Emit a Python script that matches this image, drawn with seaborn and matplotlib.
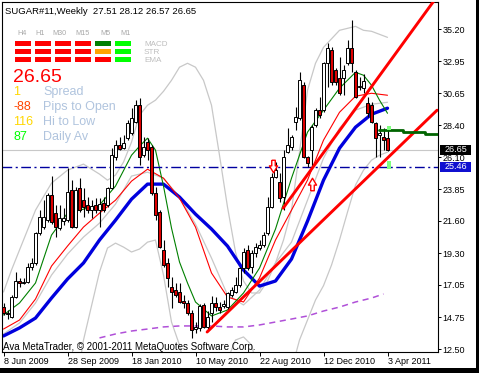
import numpy as np
import matplotlib
matplotlib.use("Agg")
import matplotlib.pyplot as plt
import seaborn as sns
from matplotlib.patches import Rectangle
from matplotlib.path import Path

# --- Settings ---
sns.set_style("white")
plt.rcParams["font.family"] = ["Liberation Sans", "DejaVu Sans"]

W, H = 479, 373

# --- Weekly candles, 8 Jun 2009 -> 3 Apr 2011 ---
opens = [15.48, 15.06, 14.78, 16.19, 17.33, 17.20, 17.26, 18.32, 18.61, 20.73,
         21.20, 21.65, 23.43, 22.15, 21.10, 21.60, 21.65, 23.78, 21.16, 23.92,
         23.07, 22.72, 22.40, 22.72, 22.40, 22.86, 22.72, 23.92, 26.12, 27.00,
         26.80, 27.47, 27.82, 28.60, 29.81, 26.26, 27.19, 26.83, 23.57, 22.22,
         19.53, 18.61, 16.90, 16.69, 16.55, 15.90, 15.77, 15.06, 13.95, 14.00,
         15.63, 14.07, 15.06, 15.77, 15.48, 15.55, 15.48, 16.34, 16.55, 17.04,
         18.25, 19.53, 18.32, 19.32, 19.67, 19.88, 20.73, 22.58, 24.70, 24.35,
         23.29, 26.48, 26.83, 28.60, 28.89, 31.23, 26.10, 26.62, 28.39, 29.46,
         29.46, 32.79, 33.71, 32.29, 31.73, 31.73, 32.79, 33.86, 32.15, 31.10,
         31.00, 29.95, 29.81, 28.53, 27.68, 27.54, 27.51]
highs = [15.77, 15.27, 16.34, 17.98, 17.54, 17.54, 18.61, 18.96, 20.80, 22.36,
         23.07, 23.57, 24.80, 22.72, 22.72, 22.50, 25.34, 24.49, 24.00, 24.63,
         23.92, 23.29, 23.07, 23.20, 23.20, 23.29, 24.00, 26.76, 27.33, 27.54,
         27.68, 28.75, 29.60, 30.17, 30.30, 27.54, 27.47, 26.97, 24.00, 22.36,
         20.24, 18.96, 17.60, 17.19, 17.19, 16.34, 15.98, 15.27, 14.42, 15.70,
         15.77, 15.18, 16.26, 16.19, 15.84, 15.98, 16.55, 16.90, 17.60, 18.32,
         19.67, 19.88, 19.53, 20.00, 20.24, 20.80, 23.29, 24.99, 25.77, 24.99,
         26.62, 28.18, 27.68, 29.67, 32.15, 31.44, 26.20, 28.39, 29.60, 30.38,
         32.86, 34.20, 33.92, 32.43, 33.21, 32.65, 34.42, 35.84, 32.29, 31.80,
         32.00, 30.38, 30.03, 28.60, 28.39, 28.18, 28.12]
lows = [14.92, 14.63, 14.70, 16.12, 16.90, 17.10, 17.19, 18.11, 18.46, 20.59,
        21.00, 21.51, 21.40, 20.45, 20.95, 21.30, 21.51, 21.10, 21.10, 22.22,
        21.87, 22.15, 21.80, 22.15, 21.16, 22.20, 22.58, 23.85, 25.91, 26.62,
        26.70, 27.33, 27.68, 28.53, 25.56, 26.12, 25.91, 23.43, 21.65, 19.67,
        18.32, 16.90, 15.41, 16.19, 15.77, 15.41, 14.92, 13.28, 13.64, 13.80,
        14.00, 13.85, 14.42, 15.18, 15.06, 15.41, 15.27, 16.19, 16.48, 16.90,
        17.90, 18.11, 17.90, 19.03, 19.53, 19.74, 20.59, 22.50, 24.63, 22.93,
        22.36, 26.40, 26.62, 28.04, 28.75, 26.05, 25.46, 25.41, 28.25, 28.89,
        29.31, 31.10, 31.23, 31.23, 30.52, 30.52, 32.65, 32.15, 30.31, 30.87,
        30.70, 28.96, 28.53, 26.12, 26.12, 26.62, 26.57]
closes = [15.06, 14.98, 16.19, 17.33, 17.19, 17.28, 18.32, 18.61, 20.73, 21.87,
          21.90, 23.43, 21.51, 21.16, 21.80, 21.80, 23.64, 21.16, 23.78, 22.36,
          22.58, 22.36, 22.65, 22.36, 22.80, 22.36, 23.92, 26.26, 26.97, 26.70,
          27.15, 28.53, 28.89, 29.81, 26.12, 26.83, 26.62, 23.57, 22.01, 19.74,
          18.46, 17.54, 16.55, 16.34, 15.84, 15.77, 15.06, 13.85, 14.07, 15.55,
          14.07, 14.78, 15.77, 15.48, 15.30, 15.70, 16.48, 16.69, 17.04, 18.25,
          19.39, 18.25, 19.32, 19.74, 19.88, 20.59, 22.58, 24.70, 25.20, 23.21,
          26.12, 26.97, 27.54, 28.96, 31.58, 26.12, 25.70, 28.25, 29.46, 29.10,
          32.79, 33.86, 31.44, 31.44, 30.66, 32.29, 33.86, 32.79, 30.38, 31.20,
          31.50, 29.24, 28.60, 27.47, 27.82, 27.33, 26.65]

date_ticks = [0, 16, 32, 48, 64, 80, 96]
date_labels = ["8 Jun 2009", "28 Sep 2009", "18 Jan 2010", "10 May 2010",
               "22 Aug 2010", "12 Dec 2010", "3 Apr 2011"]
price_ticks = [12.50, 14.75, 17.05, 19.30, 21.60, 23.85, 26.10, 28.40, 30.65, 32.95, 35.20]

# --- Indicator lines (bar index, price) ---
green_idx = [0, 4, 8, 12, 16, 20, 24, 28, 32, 34, 36, 38, 40, 42, 44, 46, 48, 52, 56, 60,
             64, 68, 72, 76, 80, 84, 88, 90, 92, 94, 96]
green_val = [14.92, 15.77, 17.19, 20.59, 22.15, 22.43, 22.72, 24.07, 26.26, 26.90, 27.47,
             26.62, 24.07, 21.09, 18.68, 17.19, 15.84, 14.85, 15.27, 16.48, 18.25, 21.02,
             24.63, 27.90, 29.46, 31.02, 32.15, 31.94, 31.23, 30.17, 29.24]

ma_idx = list(range(0, 97, 4))
red_val = [13.92, 14.56, 16.05, 18.39, 19.81, 21.16, 22.15, 23.07, 24.42, 25.27, 24.63, 23.21,
           21.16, 17.90, 16.19, 15.84, 17.54, 20.24, 22.36, 24.49, 27.33, 29.31, 30.45, 30.66, 30.52]
blue_val = [13.43, 14.00, 14.70, 16.12, 17.47, 18.61, 20.24, 21.65, 23.14, 24.21, 24.21, 23.29,
            22.08, 21.02, 19.81, 18.11, 16.97, 17.33, 18.89, 21.58, 24.49, 26.76, 28.25, 29.17, 29.60]
mid_val = [13.57, 14.35, 15.77, 17.75, 19.24, 20.45, 21.44, 22.79, 24.78, 25.06, 24.63, 23.29,
           21.37, 18.96, 16.34, 15.63, 16.69, 18.61, 20.09, 23.07, 26.05, 28.18, 29.46, 29.88, 30.02]

upper_idx = [0, 2, 4, 8, 12, 16, 20, 24, 26, 28, 30, 32, 34, 36, 38, 40, 42, 44, 46, 48,
             50, 52, 54, 56, 58, 60, 62, 64, 66, 68, 70, 72, 74, 76, 78, 80, 84, 88, 90, 92, 96]
upper_val = [16.55, 18.11, 19.53, 22.36, 24.28, 25.20, 25.63, 24.92, 24.49, 24.85,
             25.77, 27.19, 29.10, 29.81, 30.17, 30.80, 31.58, 32.51, 32.79, 32.51,
             31.58, 29.81, 26.26, 22.58, 19.39, 17.33, 16.48, 16.48, 17.33, 18.61,
             20.24, 22.36, 26.48, 30.87, 32.79, 33.92, 35.13, 35.41, 35.13, 35.06, 34.63]
lower_idx = [18, 20, 22, 24, 26, 28, 30, 32, 34, 36, 38, 40, 42, 44, 46, 48, 52, 56, 58, 60,
             62, 64, 68, 72, 74, 76, 78, 80, 82, 84, 86, 88, 90, 92, 94, 96]
lower_val = [9.60, 13.14, 15.56, 17.97, 19.67, 20.02, 19.74, 19.39, 19.60, 20.09,
             20.24, 17.75, 14.42, 12.79, 10.31, 8.89, 8.89, 11.73, 13.14, 13.36,
             12.79, 10.66, 9.60, 11.02, 13.14, 14.56, 15.98, 17.00, 18.46, 20.24,
             22.22, 24.14, 25.20, 25.91, 26.26, 26.48]
purple_idx = [24, 28, 32, 36, 40, 44, 48, 52, 56, 60, 64, 68, 72, 76, 80, 84, 88, 92, 95]
purple_val = [13.29, 13.57, 13.78, 13.92, 14.07, 14.14, 14.14, 14.14, 14.07, 14.07,
              14.21, 14.42, 14.63, 14.85, 15.20, 15.48, 15.84, 16.12, 16.41]

# trend lines, levels, markers
trend_a_idx, trend_a_val = [69.9, 108.4], [22.50, 37.53]
trend_b_idx, trend_b_val = [50.9, 108.4], [13.71, 29.46]
step_idx = [93.9, 99.9, 105.4, 108.5]
step_val = [28.04, 27.92, 27.80, 27.80]
last_price, support = 26.65, 25.46
proj_boxes = [(28.04, 28.34), (25.26, 25.86)]
arrow_down = (67.4, 25.48)
arrow_up = (77.1, 24.21)

# --- info panel contents ---
timeframes = ["H4", "H1", "M30", "M15", "M5", "M1"]
tf_centers = [22.5, 40, 59.5, 83, 105.5, 125]
signal_rows = ["MACD", "STR", "EMA"]
signal_colors = [["red", "red", "red", "red", "#008000", "#00FF00"],
                 ["red", "red", "red", "red", "#FFA500", "#00FF00"],
                 ["red", "red", "red", "red", "red", "#00FF00"]]
stat_values = ["1", "-88", "116", "87"]
stat_labels = ["Spread", "Pips to Open", "Hi to Low", "Daily Av"]
stat_colors = ["#FFD700", "#FF4500", "#FFD700", "#00FF00"]


def fpos(px, py):
    return px / W, 1 - py / H


fig = plt.figure(figsize=(W / 100, H / 100), dpi=100)
fig.patch.set_facecolor("white")
ax = fig.add_axes([1.5 / W, 21 / H, 436 / W, 350 / H])
ax.set_facecolor("white")
ax.set_xlim(-0.5, 108.5)
ax.set_ylim(12.29, 37.14)

# --- levels ---
ax.axhline(last_price, color="#C8C8C8", lw=0.8, zorder=1)
ax.axhline(support, color="#0000A0", lw=1, ls=(0, (7, 2.5, 1.5, 2.5)), zorder=2)

# --- indicator lines ---
sns.lineplot(x=upper_idx, y=upper_val, ax=ax, color="#C8C8C8", lw=0.9, zorder=1.5)
sns.lineplot(x=lower_idx, y=lower_val, ax=ax, color="#C8C8C8", lw=0.9, zorder=1.5)
sns.lineplot(x=ma_idx, y=mid_val, ax=ax, color="#C8C8C8", lw=0.9, zorder=1.5)
sns.lineplot(x=purple_idx, y=purple_val, ax=ax, color="#B050D8", lw=1.1,
             ls=(0, (4, 3)), zorder=1.6)
sns.lineplot(x=ma_idx, y=blue_val, ax=ax, color="#0000DD", lw=2.4, zorder=1.7)
sns.lineplot(x=ma_idx, y=red_val, ax=ax, color="#FF0000", lw=0.8, zorder=1.8)
sns.lineplot(x=green_idx, y=green_val, ax=ax, color="#008000", lw=0.8, zorder=1.9)

# --- candles ---
x = np.arange(len(closes))
ax.vlines(x, lows, highs, color="black", lw=0.8, zorder=3)
for i in range(len(x)):
    o, c = opens[i], closes[i]
    face = "white" if c >= o else "#DD0000"
    ax.add_patch(Rectangle((i - 0.27, min(o, c)), 0.54, max(abs(c - o), 0.05),
                           facecolor=face, edgecolor="black", lw=0.7, zorder=4))

# --- objects ---
sns.lineplot(x=trend_a_idx, y=trend_a_val, ax=ax, color="#FF0000", lw=2.1, zorder=5)
sns.lineplot(x=trend_b_idx, y=trend_b_val, ax=ax, color="#FF0000", lw=2.1, zorder=5)
ax.step(step_idx, step_val, where="post", color="#006400", lw=2, zorder=5)
for lo, hi in proj_boxes:
    ax.add_patch(Rectangle((95.8, lo), 1.1, hi - lo, facecolor="#7FFF7F",
                           edgecolor="none", zorder=5))

down_path = Path([(-0.28, 1), (0.28, 1), (0.28, 0.1), (0.65, 0.1), (0, -1),
                  (-0.65, 0.1), (-0.28, 0.1), (-0.28, 1)])
up_path = Path([(-0.28, -1), (0.28, -1), (0.28, -0.1), (0.65, -0.1), (0, 1),
                (-0.65, -0.1), (-0.28, -0.1), (-0.28, -1)])
ax.plot([arrow_down[0]], [arrow_down[1]], marker=down_path, ms=9, mfc="white",
        mec="#FF0000", mew=1, zorder=6)
ax.plot([arrow_up[0]], [arrow_up[1]], marker=up_path, ms=9, mfc="white",
        mec="#FF0000", mew=1, zorder=6)

# --- axes styling ---
for sp in ax.spines.values():
    sp.set_color("black")
    sp.set_linewidth(0.8)
ax.yaxis.tick_right()
ax.set_yticks(price_ticks)
ax.set_yticklabels([f"{p:.2f}" for p in price_ticks])
ax.set_xticks(date_ticks)
ax.set_xticklabels(date_labels)
ax.tick_params(axis="y", right=True, left=False, direction="out", length=2.5,
               width=0.7, pad=1.2, labelsize=6.5, colors="black")
ax.tick_params(axis="x", bottom=True, direction="out", length=3, width=0.7,
               pad=0.6, labelsize=6.5, colors="black")
for lab in ax.get_xticklabels():
    lab.set_horizontalalignment("left")
ax.set_xlabel("")
ax.set_ylabel("")

# --- price boxes on the axis ---
for value, face in [(last_price, "black"), (support, "#1010D0")]:
    fy = ax.transData.transform((0, value))[1] / H
    fig.add_artist(Rectangle((440 / W, fy - 5 / H), 31 / W, 10 / H, transform=fig.transFigure,
                             facecolor=face, edgecolor="none", zorder=5))
    fig.text(455.5 / W, fy, f"{value:.2f}", color="white", fontsize=6.5,
             ha="center", va="center", zorder=6)

# --- header and panel ---
fig.text(*fpos(5, 13.8), "SUGAR#11,Weekly  27.51 28.12 26.57 26.65", fontsize=6.8,
         color="black", va="baseline")
for name, cx in zip(timeframes, tf_centers):
    fig.text(*fpos(cx, 35.3), name, fontsize=5.2, color="#A8A8A8", ha="center", va="baseline")
for r, (row_name, colors) in enumerate(zip(signal_rows, signal_colors)):
    top = 41 + 8 * r
    for c, col in enumerate(colors):
        fig.add_artist(Rectangle((( 15 + 20 * c) / W, 1 - (top + 5) / H), 16 / W, 5 / H,
                                 transform=fig.transFigure, facecolor=col, edgecolor="none"))
    fig.text(*fpos(144, top + 5.3), row_name, fontsize=5.9, color="#BEBEBE", va="baseline")

fig.text(*fpos(13, 81.7), f"{last_price:.2f}", fontsize=14, color="#FF0000", va="baseline")
for k, (val, lab, col) in enumerate(zip(stat_values, stat_labels, stat_colors)):
    base = 95 + 15 * k
    fig.text(*fpos(13, base), val, fontsize=9, color=col, va="baseline")
    fig.text(*fpos(43, base), lab, fontsize=9, color="#B0C4DE", va="baseline")

fig.text(*fpos(3, 350), "Ava MetaTrader, \u00a9 2001-2011 MetaQuotes Software Corp.",
         fontsize=7, color="black", va="baseline", zorder=6)

# --- window border ---
fig.add_artist(Rectangle((476 / W, 0), 3 / W, 1, transform=fig.transFigure,
                         facecolor="black", edgecolor="none"))
fig.add_artist(Rectangle((0, 0), 1, 5 / H, transform=fig.transFigure,
                         facecolor="black", edgecolor="none"))

fig.savefig("out.png", dpi=100)
